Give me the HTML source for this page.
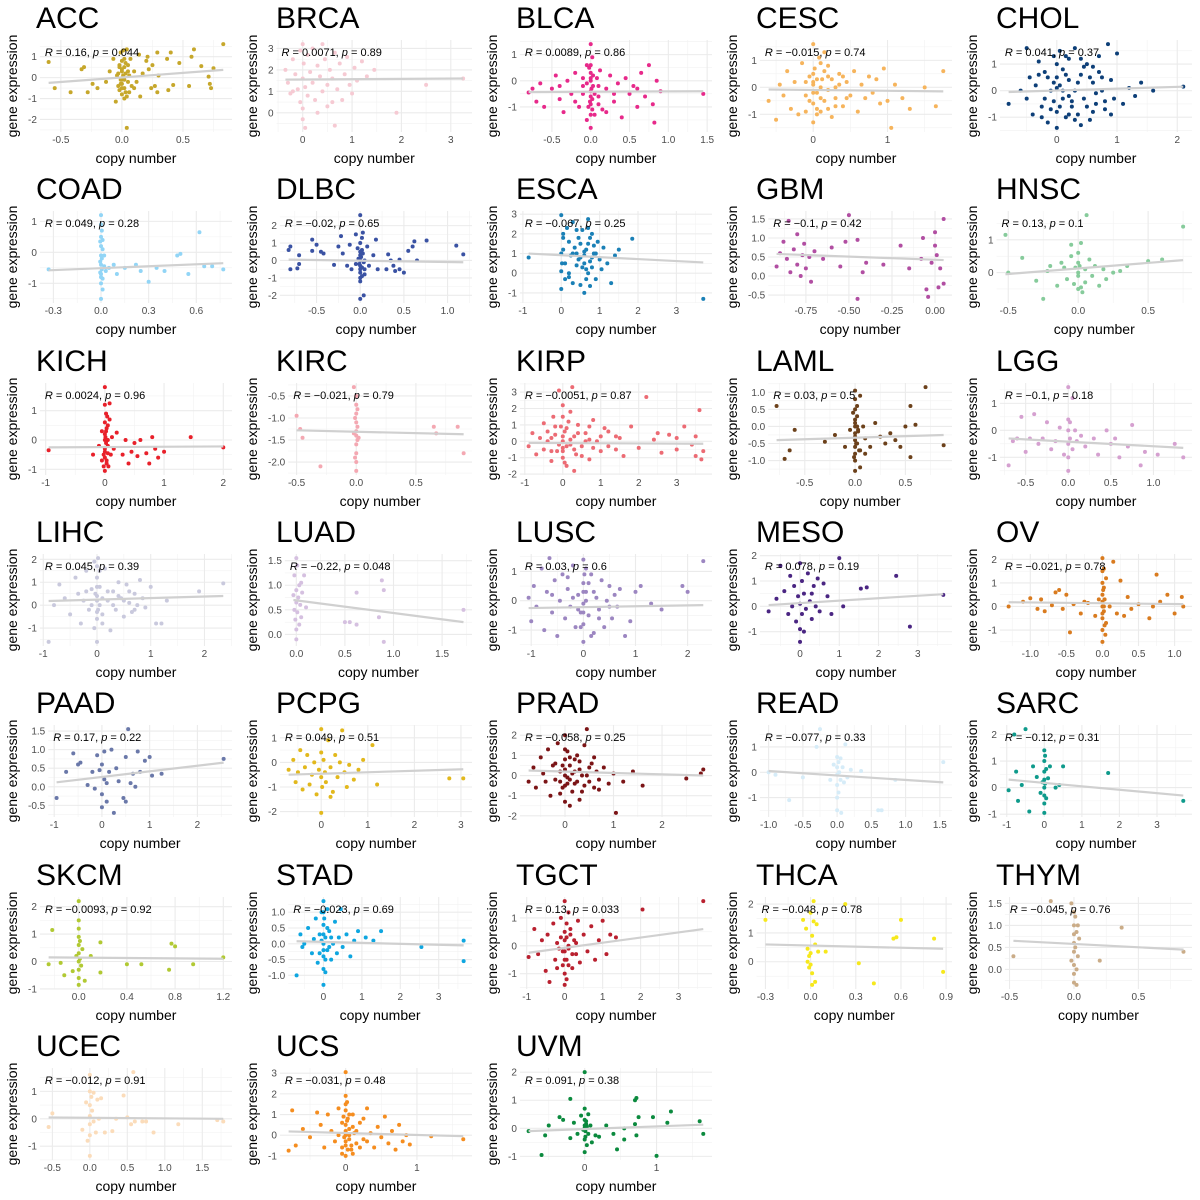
<!DOCTYPE html>
<html><head><meta charset="utf-8"><title>Copy number vs gene expression</title>
<style>
html,body{margin:0;padding:0;background:#fff;}
svg{display:block;font-family:"Liberation Sans",Arial,sans-serif;}
</style></head>
<body>
<svg id="fig" width="1200" height="1200" viewBox="0 0 1200 1200" xmlns="http://www.w3.org/2000/svg"></svg>
<script>
const cancers = ["ACC","BRCA","BLCA","CESC","CHOL","COAD","DLBC","ESCA","GBM","HNSC","KICH","KIRC","KIRP","LAML","LGG","LIHC","LUAD","LUSC","MESO","OV","PAAD","PCPG","PRAD","READ","SARC","SKCM","STAD","TGCT","THCA","THYM","UCEC","UCS","UVM"];
const colors = ["#c6a72b","#f6cad3","#e7298a","#f6b45c","#0d3f78","#92d5f6","#3a52a3","#1a80b6","#b14ea2","#86cb9b","#e8202a","#f4a8b2","#ec6b74","#6c411b","#d5a0d0","#c9c9dd","#d5c0e0","#9c86c1","#4a2582","#d97b1f","#6a78a9","#e2b81c","#7b1416","#d6ecf8","#0e9a8b","#b1c933","#0ea6e0","#b9202f","#f6e81c","#caac88","#fbdcba","#f58d1f","#0b8a3e"];
const rVals = ["0.16","0.0071","0.0089","−0.015","0.041","0.049","−0.02","−0.067","−0.1","0.13","0.0024","−0.021","−0.0051","0.03","−0.1","0.045","−0.22","0.03","0.078","−0.021","0.17","0.049","−0.058","−0.077","−0.12","−0.0093","−0.023","0.13","−0.048","−0.045","−0.012","−0.031","0.091"];
const pVals = ["0.044","0.89","0.86","0.74","0.37","0.28","0.65","0.25","0.42","0.1","0.96","0.79","0.87","0.5","0.18","0.39","0.048","0.6","0.19","0.78","0.22","0.51","0.25","0.33","0.31","0.92","0.69","0.033","0.78","0.76","0.91","0.48","0.38"];
// fitted line value at min x and at max x of each panel
const lineStart = [-0.25,1.55,-0.43,-0.08,-0.05,-0.58,0.05,1.0,0.58,-0.05,-0.25,-1.28,-0.1,-0.4,-0.3,0.18,0.7,-0.25,0.05,0.18,0.12,-0.5,0.25,0.05,0.3,0.15,0.08,-0.25,0.6,0.65,0.05,0.18,-0.1];
const lineEnd = [0.37,1.6,-0.4,-0.15,0.15,-0.35,-0.1,0.55,0.42,0.38,-0.22,-1.37,-0.15,-0.25,-0.65,0.4,0.25,-0.15,0.48,0.1,0.65,-0.28,0.0,-0.4,-0.3,0.1,-0.05,0.6,0.45,0.45,0.0,-0.05,0.13];
const xTicks = [[-0.5,0,0.5],[0,1,2,3],[-0.5,0,0.5,1,1.5],[0,1],[0,1,2],[-0.3,0,0.3,0.6],[-0.5,0,0.5,1],[-1,0,1,2,3],[-0.75,-0.5,-0.25,0],[-0.5,0,0.5],[-1,0,1,2],[-0.5,0,0.5],[-1,0,1,2,3],[-0.5,0,0.5],[-0.5,0,0.5,1],[-1,0,1,2],[0,0.5,1,1.5],[-1,0,1,2],[0,1,2,3],[-1,-0.5,0,0.5,1],[-1,0,1,2],[0,1,2,3],[0,1,2],[-1,-0.5,0,0.5,1,1.5],[-1,0,1,2,3],[0,0.4,0.8,1.2],[0,1,2,3],[-1,0,1,2,3],[-0.3,0,0.3,0.6,0.9],[-0.5,0,0.5],[-0.5,0,0.5,1,1.5],[0,1],[0,1]];
const yTicks = [[-2,-1,0,1],[0,1,2,3],[-1,0,1],[-1,0,1],[-1,0,1],[-1,0,1],[-2,-1,0,1,2],[-1,0,1,2,3],[-0.5,0,0.5,1,1.5],[0,1],[-1,0,1],[-2,-1.5,-1,-0.5],[-2,-1,0,1,2,3],[-1,-0.5,0,0.5,1],[-1,0,1],[-1,0,1,2],[0,0.5,1,1.5],[-1,0,1],[-1,0,1,2],[-1,0,1,2],[-0.5,0,0.5,1,1.5],[-2,-1,0,1],[-2,-1,0,1,2],[-1,0,1],[-1,0,1,2],[-1,0,1,2],[-1,-0.5,0,0.5,1],[-1,0,1],[0,1,2],[0,0.5,1,1.5],[-1,0,1],[-1,0,1,2,3],[-1,0,1,2]];

const ACC_pts = [[-0.6,0.75],[-0.55,-0.5],[-0.42,-0.7],[-0.33,0.4],[-0.31,0.5],[-0.28,-0.7],[-0.24,-0.3],[-0.2,-0.5],[-0.13,-0.2],[-0.1,0.3],[-0.07,0.9],[-0.05,-1.15],[-0.04,0.1],[-0.03,-0.4],[-0.02,0.6],[-0.02,-0.6],[-0.01,1.2],[-0.01,-0.1],[0,0.8],[0,0.3],[0,-0.3],[0,-0.8],[0.01,1.3],[0.01,0],[0.02,-0.5],[0.02,0.5],[0.02,-1.0],[0.03,0.2],[0.04,1.35],[0.04,-2.4],[0.05,0.6],[0.05,-0.2],[0.06,-0.7],[0.07,0.9],[0.08,-0.4],[0.1,0.3],[0.12,-0.2],[0.14,1.1],[0.15,-0.9],[0.17,0.2],[0.2,0.8],[0.21,1.0],[0.22,0.4],[0.24,-0.5],[0.25,0.6],[0.27,-0.4],[0.29,1.2],[0.29,-0.7],[0.37,0.9],[0.38,-0.6],[0.4,1.2],[0.42,-0.35],[0.47,0.7],[0.55,-0.4],[0.57,1.0],[0.59,1.35],[0.65,0.55],[0.71,0.05],[0.72,-0.3],[0.73,-0.5],[0.75,0.45],[0.83,1.6],[0.3,0.1],[0.1,-0.5],[-0.03,0.2],[0.0,-0.1],[0.03,0.7],[0.06,0.1],[0,0.4],[0,-0.5],[0.01,0.1],[0.02,0.9],[-0.01,-0.3],[0.03,-0.7],[0.05,0.3],[0.02,-0.1],[-0.02,0.5],[0.04,-0.9]];
const BRCA_pts = [[-0.35,2.0],[-0.3,1.4],[-0.25,0.9],[-0.2,2.5],[-0.15,1.8],[-0.1,1.1],[-0.05,2.9],[-0.05,0.5],[0,3.2],[0,1.6],[0,0.2],[0,-0.3],[0.02,2.3],[0.05,1.2],[0.05,-0.7],[0.1,2.7],[0.1,0.8],[0.15,1.9],[0.2,1.4],[0.2,3.0],[0.25,0.6],[0.3,2.2],[0.35,1.7],[0.4,3.2],[0.4,1.0],[0.45,2.5],[0.5,1.3],[0.5,0.3],[0.55,2.0],[0.6,1.6],[0.65,2.8],[0.65,-0.6],[0.7,1.1],[0.75,2.3],[0.8,0.6],[0.85,1.8],[0.9,2.6],[0.95,1.3],[1.0,0.9],[1.05,2.1],[1.1,1.5],[1.2,2.4],[1.3,1.7],[1.45,2.0],[1.9,0.0],[2.5,1.3],[3.25,1.6],[0.3,0.0],[0.6,0.5],[-0.2,1.0]];
const BLCA_pts = [[-0.8,-0.45],[-0.75,-0.3],[-0.7,-0.8],[-0.65,-0.1],[-0.6,-1.0],[-0.5,-0.3],[-0.45,0.2],[-0.4,-0.7],[-0.35,-1.2],[-0.3,0.0],[-0.25,-0.5],[-0.2,0.3],[-0.15,-1.0],[-0.1,-0.2],[-0.05,0.6],[-0.05,-1.5],[0,1.4],[0,-0.4],[0,-1.8],[0,0.3],[0,-0.9],[0.02,0.9],[0.03,-0.2],[0.05,-1.3],[0.08,0.1],[0.1,-0.6],[0.12,0.4],[0.15,-1.1],[0.2,-0.3],[0.25,0.2],[0.3,-0.8],[0.35,-0.1],[0.4,-1.4],[0.45,0.1],[0.5,-0.5],[0.55,-0.2],[0.6,-1.0],[0.65,0.3],[0.7,-0.6],[0.75,0.6],[0.8,-0.9],[0.82,-1.6],[0.85,0.0],[0.9,-0.4],[1.45,-0.5],[-0.2,-0.8],[0.2,-1.2],[0.0,0.0],[-0.1,-0.5],[0.1,-0.2],[0,-0.6],[0,0.1],[0.02,-1.1],[-0.02,0.5],[0.01,-0.3],[-0.01,-0.8],[0.03,0.2],[0.0,-1.3],[0.05,-0.5],[-0.05,-0.1],[0.0,0.6],[0.02,-0.7],[-0.03,-1.0],[0.1,-0.9],[-0.1,0.1],[0.3,-0.5],[0.6,-0.3],[-0.4,-0.2]];
const CESC_pts = [[-0.6,-0.5],[-0.5,-1.2],[-0.45,0.1],[-0.4,-0.3],[-0.35,0.6],[-0.3,-0.8],[-0.25,0.2],[-0.2,-1.0],[-0.15,0.9],[-0.1,-0.3],[-0.05,0.4],[0,1.6],[0,-0.6],[0,0.1],[0,-1.3],[0.02,0.7],[0.05,-0.2],[0.08,1.1],[0.1,-0.9],[0.12,0.3],[0.15,-0.5],[0.2,0.8],[0.25,-1.1],[0.3,0.0],[0.35,0.5],[0.4,-0.7],[0.45,0.2],[0.5,-0.3],[0.55,0.6],[0.6,-0.9],[0.65,0.1],[0.7,-0.4],[0.75,0.4],[0.8,-0.2],[0.85,0.3],[0.9,-0.6],[0.95,0.7],[1.0,-0.5],[1.05,-1.5],[1.1,0.1],[1.2,-0.4],[1.3,-0.8],[1.5,0.0],[1.65,-0.7],[1.75,0.6],[0.1,0.0],[-0.1,0.2],[0.3,-0.4],[0.05,-0.8],[0.2,0.4],[0,0.5],[0,-0.2],[0.05,0.3],[0.1,-0.4],[0.15,0.6],[0.2,-0.1],[0.25,0.3],[0.3,-0.7],[0.05,-1.0],[0.1,0.9],[-0.05,-0.5],[0.0,0.2],[0.2,-0.8],[0.35,0.1],[0.4,0.4],[0.45,-0.4],[-0.1,-0.9],[0.15,1.3]];
const CHOL_pts = [[-0.8,-0.5],[-0.6,0.0],[-0.5,1.6],[-0.5,-0.3],[-0.45,0.5],[-0.4,-0.9],[-0.35,0.2],[-0.3,1.1],[-0.25,-0.6],[-0.2,0.7],[-0.15,-1.2],[-0.1,0.0],[-0.05,1.3],[-0.05,-0.4],[0,0.5],[0,-1.4],[0,1.0],[0,-0.8],[0.05,0.2],[0.05,1.5],[0.1,-0.3],[0.1,0.8],[0.15,-1.0],[0.2,0.4],[0.2,1.2],[0.25,-0.6],[0.3,0.0],[0.3,1.6],[0.35,-0.9],[0.4,0.6],[0.45,-0.3],[0.5,1.0],[0.55,-1.1],[0.6,0.3],[0.65,-0.5],[0.7,1.3],[0.75,0.0],[0.8,-0.7],[0.85,1.75],[0.9,0.4],[0.95,-0.3],[1.0,1.4],[1.1,-0.5],[1.2,0.1],[1.3,-0.2],[1.4,0.3],[1.6,0.0],[2.1,0.15],[0.2,-0.2],[-0.1,-0.7],[0.4,-1.3],[0.6,0.9],[0.1,0.0],[0.15,0.6],[0.25,-0.4],[0.35,0.3],[0.45,0.9],[0.5,-0.6],[0.55,0.5],[0.65,-0.1],[0.7,0.7],[0.8,-0.4],[0.05,-0.6],[-0.05,0.3],[-0.15,0.5],[-0.2,-0.3],[-0.3,0.6],[0.0,0.1],[0.2,-0.9],[0.4,1.2],[0.6,-0.8],[0.3,-1.1],[0.9,-0.9],[0.75,0.5],[0.15,1.3],[-0.25,-1.0]];
const COAD_pts = [[-0.33,-0.55],[0,1.2],[0,0.9],[0,0.5],[0,0.2],[0,-0.1],[0,-0.4],[0,-0.7],[0,-1.0],[0,-1.5],[0.005,0.7],[0.005,-0.2],[0.005,-0.55],[0.01,0.1],[0.01,-0.85],[0.01,-1.2],[-0.005,0.35],[-0.005,-0.3],[-0.005,-0.65],[0.02,-0.45],[0.03,-0.6],[0.05,-0.5],[0.08,-0.4],[0.1,-0.7],[0.15,-0.5],[0.22,-0.4],[0.25,-0.6],[0.3,-0.95],[0.35,-0.5],[0.4,-0.6],[0.48,-0.1],[0.5,-0.05],[0.55,-0.7],[0.62,0.65],[0.65,-0.45],[0.7,-0.45],[0.77,-0.55],[0.02,-0.1],[0.0,-0.8],[0.01,0.4]];
const DLBC_pts = [[-0.82,0.6],[-0.8,0.8],[-0.8,-0.5],[-0.7,0.3],[-0.72,-0.45],[-0.7,-0.2],[-0.55,1.2],[-0.55,0.55],[-0.5,0.9],[-0.45,0.5],[-0.42,0.4],[-0.3,-0.25],[-0.25,0.8],[-0.22,1.4],[-0.2,0.4],[-0.15,-0.3],[-0.12,0.9],[-0.1,-0.5],[-0.05,1.5],[-0.05,-0.2],[0,2.6],[0,1.0],[0,0.3],[0,-0.3],[0,-0.7],[0,-1.2],[0,-2.2],[0.02,0.6],[0.02,-0.9],[0.03,1.6],[0.04,-2.0],[0.05,0.0],[0.05,-0.5],[0.08,0.8],[0.1,-0.3],[0.15,0.3],[0.18,1.2],[0.2,-0.5],[0.3,-0.5],[0.32,0.35],[0.35,0.0],[0.38,-0.3],[0.4,-0.6],[0.45,-0.5],[0.5,-0.7],[0.55,0.55],[0.6,0.8],[0.62,1.1],[0.65,0.0],[0.76,1.15],[1.1,0.85],[1.18,0.35],[0.45,0.05],[-0.02,0.1],[0,0.5],[0,0.0],[0,-0.5],[0.01,0.2],[-0.01,-0.2],[0.02,-0.4],[0.03,0.4],[0.05,-0.8],[-0.03,0.7],[0.02,1.3],[0.04,-0.1],[0.0,-1.0]];
const ESCA_pts = [[-0.85,0.8],[0,2.95],[0,0.1],[0,-0.8],[0.05,2.0],[0.05,1.2],[0.1,0.5],[0.1,-0.3],[0.15,2.3],[0.2,1.6],[0.2,0.0],[0.25,0.9],[0.3,2.6],[0.3,-0.5],[0.35,1.3],[0.4,0.4],[0.45,1.8],[0.5,-0.6],[0.5,0.8],[0.55,2.2],[0.6,1.1],[0.6,-1.0],[0.65,0.2],[0.7,2.75],[0.7,1.5],[0.75,0.6],[0.75,-0.65],[0.8,2.0],[0.85,1.0],[0.9,-0.3],[0.95,1.6],[1.0,0.7],[1.05,0.2],[1.1,1.3],[1.2,0.5],[1.3,-0.5],[1.4,0.9],[1.5,1.2],[1.85,1.75],[3.7,-1.3],[0.4,2.2],[0.6,0.9],[0.3,1.0],[0.8,0.3],[0.2,-0.2],[0.6,0.5],[0.65,1.2],[0.7,0.0],[0.75,1.8],[0.8,0.8],[0.85,1.4],[0.55,0.3],[0.5,1.5],[0.45,0.7],[0.4,1.0],[0.7,2.3],[0.65,-0.3],[0.9,1.0],[0.05,1.8],[0.0,1.0],[0.02,0.5]];
const GBM_pts = [[-0.92,0.25],[-0.9,0.6],[-0.88,0.9],[-0.86,0.45],[-0.85,1.45],[-0.84,0.1],[-0.82,0.7],[-0.8,0.3],[-0.8,1.1],[-0.78,0.0],[-0.77,0.55],[-0.76,0.85],[-0.75,0.2],[-0.73,0.5],[-0.72,-0.15],[-0.7,0.65],[-0.65,0.45],[-0.6,0.75],[-0.55,0.25],[-0.52,0.9],[-0.5,1.6],[-0.45,-0.6],[-0.45,0.95],[-0.42,0.1],[-0.4,0.35],[-0.3,0.3],[-0.2,0.8],[-0.15,0.2],[-0.08,0.45],[-0.07,1.0],[-0.05,-0.35],[-0.04,-0.55],[-0.02,0.35],[0.0,1.15],[0.0,0.8],[0.01,0.55],[0.02,-0.3],[0.03,0.2],[0.05,1.5],[0.05,-0.2]];
const HNSC_pts = [[-0.52,1.15],[-0.5,0.0],[-0.4,0.45],[-0.3,-0.25],[-0.25,-0.8],[-0.22,0.05],[-0.2,0.2],[-0.15,-0.4],[-0.12,0.3],[-0.1,0.15],[-0.08,-0.2],[-0.05,0.5],[-0.05,0.85],[-0.03,-0.35],[0,0.0],[0,0.3],[0,-0.5],[0,0.6],[0,-0.1],[0.01,0.2],[0.02,0.9],[0.03,-0.6],[0.05,0.1],[0.06,1.75],[0.05,-0.3],[0.08,0.4],[0.1,-0.1],[0.12,0.2],[0.15,-0.4],[0.18,0.1],[0.2,-0.2],[0.25,0.0],[0.3,0.05],[0.35,0.2],[0.5,0.35],[0.6,0.4],[0.75,1.4],[0.02,-0.45],[-0.02,0.15]];
const KICH_pts = [[-0.95,-0.35],[-0.2,-0.5],[-0.1,-0.2],[-0.05,0.3],[-0.05,-0.7],[0,1.8],[0,1.2],[0,0.6],[0,0.2],[0,-0.3],[0,-0.6],[0,-1.05],[0.02,0.9],[0.02,-0.1],[0.03,0.4],[0.03,-0.8],[0.05,0.0],[0.05,-0.45],[0.08,1.25],[0.08,0.7],[0.1,-0.5],[0.12,0.1],[0.15,-0.3],[0.2,0.25],[0.3,-0.5],[0.35,0.0],[0.4,-0.8],[0.45,-0.4],[0.5,-0.1],[0.55,-0.55],[0.6,0.0],[0.7,-0.45],[0.75,-0.8],[0.8,0.1],[0.85,-0.3],[0.9,-0.6],[1.0,-0.4],[1.45,0.1],[2.0,-0.25],[0.05,0.5],[-0.02,-0.9],[0,0.0],[0,-0.4],[0.02,0.3],[0.03,-0.7],[0.05,-0.2],[0.04,0.8],[-0.02,-0.5],[0.01,0.1],[0.06,-0.9]];
const KIRC_pts = [[-0.5,-0.95],[-0.47,-1.25],[-0.45,-1.45],[-0.3,-2.1],[-0.02,-0.3],[0,-0.5],[0,-0.7],[0,-0.9],[0,-1.1],[0,-1.3],[0,-1.4],[0,-1.6],[0,-1.8],[0,-2.0],[0,-2.2],[-0.01,-1.0],[0.01,-1.2],[0.01,-1.5],[-0.01,-1.9],[0.01,-0.8],[-0.02,-1.35],[0.02,-1.45],[0.65,-1.2],[0.67,-1.35],[0.85,-1.2],[0.9,-1.8]];
const KIRP_pts = [[-0.9,-0.3],[-0.8,0.5],[-0.7,-0.8],[-0.6,0.2],[-0.5,1.1],[-0.5,-0.5],[-0.4,0.0],[-0.3,-1.2],[-0.25,1.5],[-0.2,0.4],[-0.15,-0.6],[-0.1,3.1],[-0.05,0.9],[0,2.2],[0,0.0],[0,-1.0],[0,1.5],[0,-0.4],[0.05,0.6],[0.1,-1.5],[0.15,1.2],[0.2,-0.2],[0.25,3.3],[0.3,0.3],[0.35,-0.8],[0.4,1.0],[0.5,-0.3],[0.6,0.5],[0.7,-1.1],[0.8,1.3],[0.9,0.0],[1.0,-0.6],[1.1,0.8],[1.2,-0.3],[1.4,0.3],[1.6,-0.9],[1.8,0.9],[2.0,-0.4],[2.2,2.7],[2.4,0.1],[2.6,-0.7],[2.8,0.4],[3.0,-0.5],[3.2,0.9],[3.4,-0.2],[3.5,0.3],[3.6,1.9],[3.65,-1.1],[3.7,-0.6],[0.3,-1.8],[0.7,0.1],[1.5,0.2],[-0.3,0.2],[0,0.3],[0,-0.6],[0.1,0.8],[0.1,-0.3],[0.2,0.1],[0.3,-0.5],[0.4,0.5],[0.5,-0.9],[0.6,0.0],[-0.1,-0.2],[-0.2,0.9],[-0.3,-0.6],[0.8,-0.4],[1.0,0.3],[1.2,0.6],[1.4,-0.5],[0.2,1.8],[0.05,-1.3],[-0.4,0.6],[0.7,0.9],[2.5,0.5],[3.0,0.2],[3.5,-0.9]];
const LAML_pts = [[-0.78,0.6],[-0.7,-0.95],[-0.65,-0.7],[-0.6,-0.1],[-0.3,-0.45],[-0.2,-0.25],[-0.1,-0.6],[-0.05,-0.1],[0,1.05],[0,0.8],[0,0.5],[0,0.2],[0,0.0],[0,-0.2],[0,-0.4],[0,-0.6],[0,-0.8],[0,-1.0],[0,-1.3],[0.02,0.3],[0.02,-0.5],[0.03,-0.15],[0.05,0.9],[0.05,-0.7],[0.05,-1.2],[0.08,0.0],[0.1,-0.35],[0.1,-0.8],[0.15,-0.6],[0.2,0.1],[0.25,-0.3],[0.3,-0.5],[0.35,-0.2],[0.4,-0.4],[0.45,-0.6],[0.5,0.0],[0.55,-0.9],[0.55,0.6],[0.6,0.05],[0.7,1.15],[0.88,-0.55],[-0.02,0.4],[0,0.1],[0,-0.3],[0.01,-0.5],[0.02,0.6],[-0.01,-0.9],[0.03,-0.1],[0.04,-0.7],[0.02,0.0]];
const LGG_pts = [[-0.7,-1.3],[-0.65,-0.4],[-0.6,-0.3],[-0.55,0.5],[-0.5,-0.8],[-0.45,-0.3],[-0.4,0.6],[-0.35,-0.5],[-0.3,-0.3],[-0.25,0.3],[-0.2,-0.7],[-0.15,-0.4],[-0.1,0.1],[-0.05,-0.9],[0,1.6],[0,0.4],[0,0.0],[0,-0.5],[0,-1.0],[0,-1.5],[0.02,0.3],[0.02,-0.3],[0.05,-0.7],[0.05,1.2],[0.08,0.0],[0.1,-0.4],[0.15,-0.2],[0.2,-0.6],[0.3,-0.3],[0.35,-0.9],[0.45,0.0],[0.5,-0.5],[0.55,-0.3],[0.6,-1.0],[0.7,-0.6],[0.75,0.2],[0.85,-1.3],[0.9,-0.8],[1.05,-0.9],[1.25,-0.5],[1.35,-1.0]];
const LIHC_pts = [[-0.9,-1.6],[-0.8,0.0],[-0.7,0.9],[-0.6,0.3],[-0.5,-0.4],[-0.4,1.2],[-0.35,0.5],[-0.3,-0.8],[-0.25,0.2],[-0.2,1.5],[-0.15,-0.2],[-0.1,0.7],[-0.05,1.9],[-0.05,-1.0],[0,0.4],[0,-0.3],[0,1.2],[0,-0.6],[0,-1.6],[0.02,2.05],[0.05,0.0],[0.05,0.8],[0.1,-0.4],[0.15,1.6],[0.2,0.2],[0.25,-1.1],[0.3,0.6],[0.35,-0.2],[0.4,1.0],[0.45,0.3],[0.5,-0.5],[0.55,0.9],[0.6,0.1],[0.65,-0.3],[0.7,0.5],[0.75,0.0],[0.8,1.1],[0.85,0.3],[0.9,-0.1],[1.0,0.8],[1.1,-0.8],[1.2,-0.8],[1.3,0.2],[1.9,0.6],[2.35,0.95],[0,0.8],[0,0.2],[0.02,-0.2],[0.05,1.5],[-0.03,0.5],[0.1,0.3],[0.2,0.6],[-0.1,0.0],[0.3,0.0],[0.4,0.4],[0.1,-0.8],[-0.2,0.6],[0.5,0.2],[0.6,0.6],[0.0,1.7],[0.7,-0.2]];
const LUAD_pts = [[-0.03,0.8],[-0.02,0.5],[-0.02,1.2],[-0.01,0.3],[0,1.55],[0,0.65],[0,0.1],[0,-0.1],[0,0.9],[0.01,1.4],[0.01,0.45],[0.02,0.75],[0.03,1.0],[0.03,0.2],[0.04,0.6],[0.05,1.05],[0.05,0.35],[0.06,0.85],[0.08,1.2],[0.1,0.55],[0.5,0.25],[0.55,0.25],[0.62,0.85],[0.62,0.2],[0.85,0.35],[0.88,1.1],[0.9,0.9],[0.9,-0.15],[1.72,0.5]];
const LUSC_pts = [[-1.05,0.1],[-1.0,-0.7],[-0.95,0.5],[-0.9,-0.2],[-0.8,1.1],[-0.75,-1.0],[-0.7,0.3],[-0.65,1.45],[-0.6,-0.4],[-0.55,0.7],[-0.5,-1.2],[-0.45,0.0],[-0.4,0.9],[-0.35,-0.6],[-0.3,0.4],[-0.25,-0.2],[-0.2,1.2],[-0.15,-0.9],[-0.1,0.2],[-0.05,-0.4],[0,1.4],[0,0.6],[0,-0.1],[0,-0.8],[0,-1.4],[0.05,0.3],[0.1,-0.5],[0.15,0.9],[0.2,-1.1],[0.25,0.1],[0.3,-0.3],[0.35,0.7],[0.4,-0.9],[0.45,0.0],[0.5,0.5],[0.55,-0.6],[0.6,0.2],[0.65,-0.2],[0.7,0.4],[0.8,-1.2],[0.9,-0.7],[1.0,0.3],[1.1,0.5],[1.3,-0.1],[1.5,-0.3],[1.9,0.5],[2.0,0.3],[2.3,1.35],[0,0.3],[0,-0.4],[0.02,0.9],[-0.05,-0.9],[0.05,0.0],[0.1,0.6],[-0.1,-0.3],[0.2,0.3],[-0.2,0.1],[0.3,-0.6],[-0.3,0.8],[0.15,-1.2],[-0.6,0.2],[0.5,-0.2],[0.05,1.1]];
const MESO_pts = [[-0.8,-0.2],[-0.6,0.3],[-0.5,1.6],[-0.4,0.6],[-0.3,-0.3],[-0.25,1.2],[-0.2,0.0],[-0.15,0.8],[-0.1,-0.6],[-0.05,0.4],[0,1.7],[0,0.1],[0,-0.9],[0,-1.4],[0.05,1.0],[0.05,-0.3],[0.1,0.5],[0.15,-0.1],[0.2,1.3],[0.25,0.2],[0.3,-0.5],[0.35,0.8],[0.4,0.0],[0.45,1.1],[0.5,-0.2],[0.6,0.9],[0.7,0.4],[0.8,-0.3],[1.0,1.9],[1.1,0.0],[1.55,0.7],[1.7,0.75],[2.45,1.2],[2.8,-0.8],[3.65,0.45],[0.1,-1.0],[0.3,0.5]];
const OV_pts = [[-1.3,0.0],[-1.1,0.2],[-1.0,0.35],[-0.9,-0.1],[-0.85,0.3],[-0.8,-0.2],[-0.7,0.05],[-0.65,0.6],[-0.6,0.7],[-0.55,-0.1],[-0.5,0.5],[-0.45,-1.1],[-0.4,0.1],[-0.3,-0.3],[-0.25,0.2],[-0.2,0.15],[-0.1,-0.4],[-0.05,0.3],[0,2.05],[0,1.5],[0,1.0],[0,0.5],[0,0.0],[0,-0.5],[0,-1.0],[0,-1.5],[0.02,0.8],[0.02,-0.2],[0.03,0.3],[0.05,1.2],[0.05,-0.7],[0.1,0.0],[0.15,1.9],[0.2,-0.3],[0.25,1.1],[0.3,-0.4],[0.35,0.4],[0.4,-0.1],[0.5,0.1],[0.65,-0.5],[0.7,0.0],[0.75,1.35],[0.8,0.2],[0.9,0.5],[1.0,-0.3],[1.1,0.4],[1.12,0.0],[0,0.2],[0,-0.3],[0.02,1.6],[0.03,-0.8],[0.01,0.7],[0.04,-1.2],[0.02,0.0]];
const PAAD_pts = [[-0.95,-0.3],[-0.75,0.4],[-0.6,0.9],[-0.5,0.6],[-0.45,0.65],[-0.3,0.05],[-0.2,0.4],[-0.15,-0.05],[-0.1,0.85],[-0.05,0.45],[0,0.6],[0,-0.55],[0,-0.2],[0.05,0.2],[0.05,0.95],[0.1,-0.4],[0.1,0.1],[0.15,0.4],[0.2,1.0],[0.25,-0.7],[0.3,0.5],[0.35,0.15],[0.45,-0.3],[0.5,-0.4],[0.5,0.8],[0.55,1.55],[0.6,0.1],[0.65,0.35],[0.7,0.0],[0.75,0.95],[0.8,0.4],[0.9,0.7],[1.0,0.8],[1.05,0.3],[1.25,0.35],[2.55,0.75]];
const PCPG_pts = [[-0.7,-0.3],[-0.6,0.1],[-0.55,-0.8],[-0.5,-0.4],[-0.45,0.5],[-0.4,-1.1],[-0.35,-0.2],[-0.3,0.3],[-0.25,-0.9],[-0.2,-0.5],[-0.15,0.0],[-0.1,-1.3],[-0.05,-0.3],[0,1.35],[0,0.4],[0,-0.6],[0,-2.05],[0.02,-1.0],[0.05,0.1],[0.08,-0.4],[0.1,-0.8],[0.15,0.9],[0.2,-0.2],[0.25,-1.2],[0.3,0.3],[0.35,-0.6],[0.4,0.0],[0.45,1.3],[0.5,-0.4],[0.55,-1.0],[0.6,-0.1],[0.7,-0.7],[0.8,-0.3],[0.9,0.1],[1.1,0.7],[1.2,-0.9],[2.75,-0.65],[3.05,-0.65],[0.2,-1.4]];
const PRAD_pts = [[-0.75,-0.3],[-0.65,0.4],[-0.6,-0.6],[-0.5,0.9],[-0.45,0.1],[-0.4,-0.3],[-0.35,1.3],[-0.3,-1.0],[-0.25,0.5],[-0.2,-0.2],[-0.15,1.6],[-0.1,0.2],[-0.05,-0.6],[0,2.0],[0,0.8],[0,0.0],[0,-0.5],[0,-1.3],[0.05,1.2],[0.05,-0.1],[0.1,0.5],[0.1,-1.5],[0.15,0.1],[0.2,-0.4],[0.25,1.0],[0.3,0.3],[0.35,-0.8],[0.4,1.5],[0.45,2.3],[0.45,0.0],[0.5,-0.3],[0.55,0.6],[0.6,-0.6],[0.65,0.2],[0.7,-0.2],[0.8,0.4],[0.9,-0.4],[1.0,0.1],[1.05,-1.85],[1.2,-0.3],[1.4,0.2],[1.6,-0.5],[2.5,-0.15],[2.8,0.1],[2.85,0.3],[0.2,0.8],[-0.1,-0.9],[0,0.3],[0.05,-0.4],[0.1,0.9],[0.15,-0.8],[0.2,0.2],[0.25,-0.3],[0.3,0.7],[0.35,0.0],[0.4,-0.5],[-0.05,0.5],[-0.1,-0.3],[-0.2,0.6],[0.5,0.4],[0.6,0.9],[0.7,-0.7],[0.0,1.3],[0.1,-0.2],[0.3,-1.2]];
const READ_pts = [[-1.0,0.0],[-0.9,-0.1],[-0.7,-1.1],[-0.5,-0.2],[-0.3,1.0],[-0.25,1.7],[-0.1,-0.3],[-0.05,0.3],[0,0.6],[0,0.2],[0,-0.1],[0,-0.5],[0,-1.0],[0,-1.5],[0.02,0.4],[0.02,-0.8],[0.03,0.0],[0.05,0.55],[0.05,-0.3],[0.06,-1.6],[0.08,0.2],[0.1,-0.4],[0.12,1.1],[0.15,-0.2],[0.2,0.1],[0.35,0.05],[0.6,-1.5],[0.65,-1.5],[0.85,-0.3],[1.55,0.4]];
const SARC_pts = [[-0.95,-0.1],[-0.8,2.0],[-0.75,0.6],[-0.7,-0.5],[-0.6,0.1],[-0.5,2.2],[-0.4,-0.9],[-0.3,0.8],[-0.2,0.4],[-0.1,-0.2],[0,1.4],[0,1.0],[0,0.6],[0,0.3],[0,0.0],[0,-0.3],[0,-0.6],[0,-0.95],[0.02,1.2],[0.02,0.15],[0.05,0.7],[0.05,-0.4],[0.1,0.35],[0.15,0.8],[0.3,0.0],[0.4,0.1],[0.5,0.8],[1.7,0.55],[3.7,-0.5],[-0.05,0.2]];
const SKCM_pts = [[-0.25,-0.1],[-0.22,1.15],[-0.15,-0.05],[-0.12,-0.5],[-0.05,-0.35],[-0.02,0.2],[0,2.2],[0,1.5],[0,1.2],[0,0.9],[0,0.6],[0,0.3],[0,0.0],[0,-0.3],[0,-0.6],[0,-0.85],[0.01,0.75],[0.01,0.1],[0.02,-0.15],[0.03,0.45],[0.05,-0.7],[0.1,0.2],[0.18,0.7],[0.18,-0.4],[0.4,-0.1],[0.52,-0.1],[0.75,-0.3],[0.77,0.65],[0.8,0.55],[0.95,-0.1],[1.2,0.15]];
const STAD_pts = [[-0.7,-1.0],[-0.6,0.3],[-0.55,-0.1],[-0.5,0.0],[-0.4,0.5],[-0.3,-0.3],[-0.25,0.15],[-0.2,0.8],[-0.15,-0.6],[-0.1,0.3],[-0.05,1.0],[0,1.35],[0,0.6],[0,0.0],[0,-0.4],[0,-0.8],[0,-1.3],[0.05,0.2],[0.1,-0.2],[0.1,1.1],[0.15,0.4],[0.2,-0.5],[0.25,0.0],[0.3,0.7],[0.35,-0.3],[0.4,0.2],[0.45,1.1],[0.5,-0.1],[0.6,0.3],[0.7,-0.4],[0.8,0.1],[0.9,0.4],[1.1,0.2],[1.3,0.1],[1.5,0.4],[2.55,-0.1],[3.65,0.1],[3.65,-0.55],[0,0.3],[0,-0.2],[0.02,0.8],[0.05,-0.5],[-0.05,0.1],[0.1,0.5],[0.15,-0.1],[-0.1,-0.3],[0.2,0.2],[0.05,-0.9],[0.0,1.0]];
const TGCT_pts = [[-0.95,-0.4],[-0.8,0.6],[-0.7,-0.3],[-0.6,0.2],[-0.5,-0.9],[-0.45,0.4],[-0.4,-1.3],[-0.3,0.8],[-0.25,-0.5],[-0.2,0.1],[-0.15,-0.1],[-0.1,1.0],[-0.05,-0.7],[0,1.6],[0,0.5],[0,-0.2],[0,-1.0],[0,-1.4],[0.05,0.3],[0.05,-0.5],[0.1,1.2],[0.1,-0.1],[0.15,0.6],[0.2,-0.8],[0.25,0.2],[0.3,-0.3],[0.35,0.9],[0.4,-0.6],[0.5,0.4],[0.6,-0.2],[0.7,0.7],[0.8,-0.5],[0.9,0.2],[1.0,0.9],[1.1,-0.3],[1.2,0.4],[1.35,0.3],[2.05,1.3],[3.65,1.6],[0,0.2],[0,-0.5],[0.05,0.8],[-0.05,-0.2],[0.1,-0.7],[0.15,0.4],[-0.1,0.3],[0.2,-0.3],[0.3,0.1],[-0.2,-0.8],[0.05,-1.2],[0.1,0.0]];
const THCA_pts = [[-0.3,1.45],[-0.05,1.45],[-0.03,1.15],[-0.02,0.45],[-0.02,0.0],[-0.01,-0.2],[0,1.7],[0,0.3],[0,-0.1],[0.01,0.9],[0.01,-0.4],[0.02,2.1],[0.02,1.4],[0.03,0.6],[0.03,-0.7],[0.04,1.3],[0.05,0.35],[0.1,0.35],[0.23,2.0],[0.32,-0.05],[0.42,-0.75],[0.55,0.8],[0.57,0.85],[0.6,1.45],[0.82,0.8],[0.88,-0.35],[0.01,-0.8],[-0.01,0.2]];
const THYM_pts = [[-0.47,0.3],[-0.18,1.55],[-0.02,1.5],[-0.02,0.2],[0,1.3],[0,1.0],[0,0.8],[0,0.6],[0,0.4],[0,0.1],[0,-0.1],[0,-0.3],[0.01,1.2],[0.01,0.5],[0.02,0.85],[0.02,0.0],[0.03,1.0],[0.03,0.3],[0.04,0.7],[0.02,-0.35],[0.2,0.2],[0.37,0.95],[0.85,0.4]];
const UCEC_pts = [[-0.55,-0.3],[-0.5,0.2],[-0.1,-0.4],[-0.05,0.6],[-0.03,-0.8],[0,1.6],[0,1.0],[0,0.5],[0,0.1],[0,-0.2],[0,-0.6],[0,-1.35],[0.02,0.8],[0.03,0.3],[0.05,-0.1],[0.05,0.95],[0.08,-0.5],[0.1,0.7],[0.12,0.0],[0.15,0.75],[0.2,-0.5],[0.3,-0.45],[0.35,0.0],[0.45,0.85],[0.5,0.05],[0.55,-0.2],[0.58,1.7],[0.6,-0.1],[0.7,-0.1],[0.75,-0.1],[0.85,-0.5],[1.18,-0.2],[1.7,-0.05],[1.78,-0.1]];
const UCS_pts = [[-0.8,-0.75],[-0.75,1.2],[-0.7,-0.5],[-0.6,0.3],[-0.5,-0.1],[-0.4,1.1],[-0.35,0.5],[-0.3,-0.6],[-0.25,1.0],[-0.2,0.2],[-0.15,-0.3],[-0.1,1.3],[-0.05,0.6],[-0.05,-0.9],[0,3.05],[0,1.9],[0,1.2],[0,0.5],[0,0.0],[0,-0.5],[0,-1.0],[0.02,1.6],[0.03,0.8],[0.05,-0.2],[0.05,0.3],[0.08,-0.7],[0.1,1.0],[0.12,0.1],[0.15,-0.4],[0.2,0.6],[0.25,-0.2],[0.3,1.3],[0.35,0.1],[0.4,-0.6],[0.45,0.4],[0.5,-0.1],[0.55,0.9],[0.6,-0.4],[0.65,0.2],[0.7,-0.7],[0.75,0.5],[0.8,-0.3],[0.85,0.0],[0.9,-0.45],[1.2,-0.05],[1.65,-0.2],[0,0.2],[0,-0.3],[0.02,0.7],[0.03,-0.7],[0.05,1.0],[0.05,0.0],[0.08,-0.5],[0.1,0.4],[-0.02,-0.1],[-0.03,0.9],[0.1,-0.9],[0.15,0.2],[0.2,-0.6],[-0.1,0.0],[0.3,-0.3],[0.25,0.8],[0.0,1.5],[-0.05,-0.6]];
const UVM_pts = [[-0.78,-0.1],[-0.6,-0.95],[-0.55,-0.25],[-0.5,0.1],[-0.3,0.3],[-0.35,0.4],[-0.2,1.05],[-0.2,-0.35],[-0.15,0.2],[-0.1,-0.2],[-0.05,0.45],[0,2.0],[0,0.7],[0,0.3],[0,0.0],[0,-0.4],[0,-0.85],[0.02,0.15],[0.03,-0.6],[0.05,0.5],[0.05,-0.2],[0.08,0.1],[0.1,-0.5],[0.15,-0.25],[0.2,-0.3],[0.3,0.1],[0.4,-0.2],[0.45,-0.75],[0.55,0.0],[0.55,-0.4],[0.7,1.0],[0.72,1.08],[0.7,0.15],[0.72,-0.25],[0.75,0.4],[0.95,0.4],[1.0,-0.98],[1.15,0.2],[1.2,0.6],[1.6,0.25],[1.65,-0.2],[0,0.1],[0.01,-0.1],[0.02,0.25],[-0.02,-0.05],[0.03,0.05],[0.01,-0.3]];

const pointSets = [ACC_pts,BRCA_pts,BLCA_pts,CESC_pts,CHOL_pts,COAD_pts,DLBC_pts,ESCA_pts,GBM_pts,HNSC_pts,KICH_pts,KIRC_pts,KIRP_pts,LAML_pts,LGG_pts,LIHC_pts,LUAD_pts,LUSC_pts,MESO_pts,OV_pts,PAAD_pts,PCPG_pts,PRAD_pts,READ_pts,SARC_pts,SKCM_pts,STAD_pts,TGCT_pts,THCA_pts,THYM_pts,UCEC_pts,UCS_pts,UVM_pts];

const NS = "http://www.w3.org/2000/svg";
const svg = document.getElementById('fig');
const ctx = document.createElement('canvas').getContext('2d');
ctx.font = '10px "Liberation Sans", Arial, sans-serif';

function mk(tag, attrs, parent) {
  const e = document.createElementNS(NS, tag);
  for (const k in attrs) e.setAttribute(k, attrs[k]);
  parent.appendChild(e);
  return e;
}
function decimals(arr) {
  let d = 0;
  arr.forEach(v => { const s = String(v); const i = s.indexOf('.'); if (i >= 0) d = Math.max(d, s.length - i - 1); });
  return d;
}
function fmt(v, d) { return v.toFixed(d); }

cancers.forEach((name, i) => {
  const col = i % 5, row = Math.floor(i / 5);
  const ox = col * 240, oy = Math.round(row * 171.3);
  const pts = pointSets[i];
  const g = mk('g', {transform: `translate(${ox},${oy})`}, svg);
  
  

  const xs = pts.map(p => p[0]), ys = pts.map(p => p[1]);
  const xmin = Math.min(...xs), xmax = Math.max(...xs), ymin = Math.min(...ys), ymax = Math.max(...ys);
  const xr = xmax - xmin, yr = ymax - ymin;
  const x0 = xmin - 0.05 * xr, x1 = xmax + 0.05 * xr;
  const y0 = ymin - 0.05 * yr, y1 = ymax + 0.05 * yr;

  const xt = xTicks[i], yt = yTicks[i];
  const xd = decimals(xt), yd = decimals(yt);
  const yLabels = yt.map(v => fmt(v, yd));
  const maxW = Math.max(...yLabels.map(s => ctx.measureText(s).width));
  const L = 27 + maxW + 4, R = 232, T = 40, B = 132;
  const sx = v => L + (v - x0) / (x1 - x0) * (R - L);
  const sy = v => B - (v - y0) / (y1 - y0) * (B - T);

  const minorX = [], minorY = [];
  const sxStep = xt.length > 1 ? (xt[1] - xt[0]) : 1, syStep = yt.length > 1 ? (yt[1] - yt[0]) : 1;
  for (let v = xt[0] - sxStep / 2; v <= x1; v += sxStep) if (v >= x0) minorX.push(v);
  for (let v = yt[0] - syStep / 2; v <= y1; v += syStep) if (v >= y0) minorY.push(v);
  minorX.forEach(v => { const l = mk('line', {x1: sx(v), x2: sx(v), y1: T, y2: B, stroke: '#f2f2f2', 'stroke-width': 0.6}, g);   });
  minorY.forEach(v => { const l = mk('line', {x1: L, x2: R, y1: sy(v), y2: sy(v), stroke: '#f2f2f2', 'stroke-width': 0.6}, g);   });
  xt.forEach(v => {
    if (v < x0 || v > x1) return;
    const l = mk('line', {x1: sx(v), x2: sx(v), y1: T, y2: B, stroke: '#ebebeb', 'stroke-width': 1.1}, g);
    
    
    const t = mk('text', {x: sx(v), y: B + 11, 'font-size': 10, fill: '#4d4d4d', 'text-anchor': 'middle'}, g);
    t.textContent = fmt(v, xd);
    
    
  });
  yt.forEach((v, k) => {
    if (v < y0 || v > y1) return;
    const l = mk('line', {x1: L, x2: R, y1: sy(v), y2: sy(v), stroke: '#ebebeb', 'stroke-width': 1.1}, g);
    
    
    const t = mk('text', {x: L - 3, y: sy(v) + 3.5, 'font-size': 10, fill: '#4d4d4d', 'text-anchor': 'end'}, g);
    t.textContent = yLabels[k];
    
    
  });
  pts.forEach(p => {
    const c = mk('circle', {cx: sx(p[0]), cy: sy(p[1]), r: 2.0, fill: colors[i]}, g);
    
    
  });
  const rl = mk('line', {x1: sx(xmin), y1: sy(lineStart[i]), x2: sx(xmax), y2: sy(lineEnd[i]), stroke: '#d0d0d0', 'stroke-width': 2.2}, g);
  
  
  const st = mk('text', {x: L + 5, y: 56, 'font-size': 11, fill: '#000'}, g);
  st.innerHTML = `<tspan font-style="italic">R</tspan> = ${rVals[i]}, <tspan font-style="italic">p</tspan> = ${pVals[i]}`;
  
  
  const ti = mk('text', {x: 36, y: 28, 'font-size': 30, fill: '#000'}, g);
  ti.textContent = name;
  
  
  const xa = mk('text', {x: (L + R) / 2, y: 163, 'font-size': 14, fill: '#000', 'text-anchor': 'middle'}, g);
  xa.textContent = 'copy number';
  
  
  const ya = mk('text', {x: 0, y: 0, 'font-size': 14, fill: '#000', 'text-anchor': 'middle', transform: `translate(17,${(T + B) / 2}) rotate(-90)`}, g);
  ya.textContent = 'gene expression';
  
  
});
</script>
</body></html>
